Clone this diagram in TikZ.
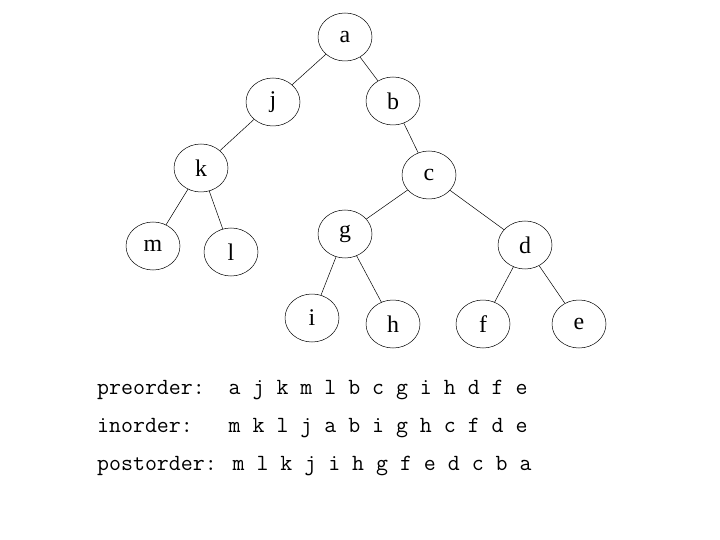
\documentclass[tikz,border=0pt]{standalone}
\usepackage{fontspec}
\setmainfont{Liberation Serif}
\usetikzlibrary{shapes.geometric}

\begin{document}
\begin{tikzpicture}[x=1bp, y=-1bp,
  vert/.style={draw, ellipse, line width=0.5pt, minimum width=54bp, minimum height=48bp, inner sep=0pt, font=\fontsize{24}{24}\selectfont},
  link/.style={line width=0.5pt},
  trav/.style={anchor=base west, inner sep=0pt, font=\ttfamily\fontsize{23.3}{23.3}\selectfont},
]
\useasboundingbox (0,0) rectangle (720,540);
% tree
\node[vert] (a) at (345,37) {a};
\node[vert] (j) at (273,102) {j};
\node[vert] (b) at (393,101) {b};
\node[vert] (k) at (201,168) {k};
\node[vert] (c) at (429,175) {c};
\node[vert] (m) at (153,246) {m};
\node[vert] (l) at (231,252) {l};
\node[vert] (g) at (345,234) {g};
\node[vert] (d) at (525,245) {d};
\node[vert] (i) at (312,318) {i};
\node[vert] (h) at (393,324) {h};
\node[vert] (f) at (483,324) {f};
\node[vert] (e) at (579,324) {e};
\foreach \p/\q in {a/j, a/b, j/k, b/c, k/m, k/l, c/g, c/d, g/i, g/h, d/f, d/e}
  \draw[link] (\p) -- (\q);
% traversals
\node[trav] (pre) at (97,394) {preorder:~~a j k m l b c g i h d f e};
\node[trav] (in) at (97,432) {inorder:~~~m k l j a b i g h c f d e};
\node[trav] (post) at (97,470) {postorder: m l k j i h g f e d c b a};
\end{tikzpicture}
\end{document}
